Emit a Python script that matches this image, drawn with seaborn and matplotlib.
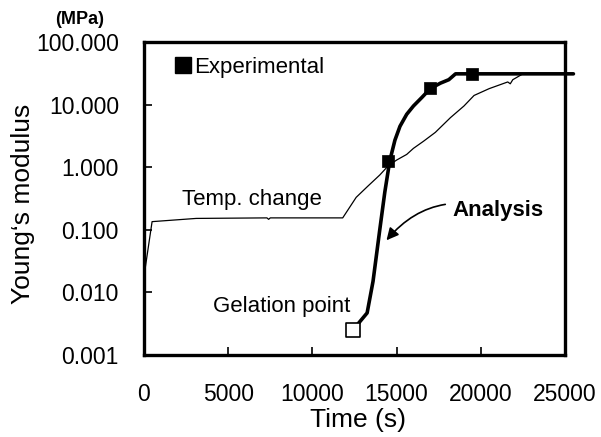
import numpy as np
import pandas as pd
import matplotlib
matplotlib.use("Agg")
import matplotlib.pyplot as plt
import seaborn as sns
from matplotlib.lines import Line2D

# ---- data ----
temp_time = [0, 480, 3100, 7300, 7400, 7500, 11800, 12600, 13300, 14000, 14500,
             15000, 15600, 16000, 16600, 17300, 18200, 19000, 19600, 20500,
             21600, 21750, 21900, 22500, 25000]
temp_modulus = [0.018, 0.135, 0.152, 0.155, 0.147, 0.155, 0.155, 0.33, 0.5, 0.75, 1.05,
                1.3, 1.6, 2.0, 2.6, 3.6, 6.2, 9.5, 14, 18,
                23, 21.5, 25, 31, 31]

analysis_time = [12400, 13250, 13600, 14000, 14300, 14590, 14900, 15200, 15600,
                 16000, 16500, 17000, 17600, 18100, 18500, 25500]
analysis_modulus = [0.0025, 0.0047, 0.015, 0.1, 0.4, 1.25, 2.7, 4.5, 7,
                    9.5, 13, 18, 22, 25, 31, 31]

exp_time = [14500, 17000, 19500]
exp_modulus = [1.25, 18.5, 31]

gel_time = [12400]
gel_modulus = [0.0025]

x_ticks = [0, 5000, 10000, 15000, 20000, 25000]
y_ticks = [0.001, 0.01, 0.1, 1, 10, 100]
y_ticklabels = ["0.001", "0.010", "0.100", "1.000", "10.000", "100.000"]

# ---- style ----
sns.set_style("ticks")
plt.rcParams["font.family"] = ["Liberation Sans", "DejaVu Sans"]
plt.rcParams["text.color"] = "black"
plt.rcParams["axes.labelcolor"] = "black"
plt.rcParams["xtick.color"] = "black"
plt.rcParams["ytick.color"] = "black"

W, H = 601, 437
fig = plt.figure(figsize=(W / 100, H / 100), dpi=100)
ax = fig.add_axes([144 / W, 1 - 355 / H, (565 - 144) / W, (355 - 42) / H])

temp_df = pd.DataFrame({"t": temp_time, "E": temp_modulus})
ana_df = pd.DataFrame({"t": analysis_time, "E": analysis_modulus})
exp_df = pd.DataFrame({"t": exp_time, "E": exp_modulus})
gel_df = pd.DataFrame({"t": gel_time, "E": gel_modulus})

sns.lineplot(data=temp_df, x="t", y="E", ax=ax, color="black", linewidth=0.9,
             sort=False, estimator=None)
sns.lineplot(data=ana_df, x="t", y="E", ax=ax, color="black", linewidth=2.6,
             sort=False, estimator=None, clip_on=False)
sns.scatterplot(data=exp_df, x="t", y="E", ax=ax, marker="s", s=70,
                color="black", edgecolor="black", linewidth=0.5, zorder=5,
                clip_on=False)
sns.scatterplot(data=gel_df, x="t", y="E", ax=ax, marker="s", s=95,
                facecolor="white", edgecolor="black", linewidth=1.2, zorder=5,
                clip_on=False)

ax.set_yscale("log")
ax.set_xlim(0, 25000)
ax.set_ylim(0.001, 100)
ax.set_xticks(x_ticks)
ax.set_xticklabels([str(v) for v in x_ticks])
ax.set_yticks(y_ticks)
ax.set_yticklabels(y_ticklabels)
ax.yaxis.set_minor_locator(matplotlib.ticker.NullLocator())
ax.tick_params(axis="both", direction="in", length=6, width=1.2, labelsize=16.5,
               colors="black", labelcolor="black")
ax.tick_params(axis="y", pad=18)
ax.tick_params(axis="x", pad=20)

for sp in ax.spines.values():
    sp.set_visible(True)
    sp.set_linewidth(2.4)
    sp.set_color("black")

ax.set_xlabel("Time (s)", fontsize=19, color="black")
ax.set_ylabel("Young\u2018s modulus", fontsize=19, color="black")
ax.xaxis.set_label_coords((358 - 144) / 421, (355 - 408) / 313)
ax.yaxis.set_label_coords((35 - 144) / 421, (355 - 203.5) / 313)

# annotations
ax.text(2250, 0.30, "Temp. change", fontsize=16, va="center", ha="left", color="black")
ax.text(4100, 0.0059, "Gelation point", fontsize=16, va="center", ha="left", color="black")
ax.annotate("Analysis", xy=(14400, 0.068), xytext=(18330, 0.2),
            fontsize=16, fontweight="bold", va="center", ha="left", color="black",
            arrowprops=dict(arrowstyle="-|>", color="black", lw=1.2,
                            connectionstyle="arc3,rad=0.35", shrinkA=3, shrinkB=0,
                            mutation_scale=18))
fig.text(80 / W, 1 - 20 / H, "(MPa)", fontsize=13, fontweight="bold",
         ha="center", va="center", color="black")

handle = Line2D([], [], marker="s", color="black", linestyle="none", markersize=12)
leg = ax.legend([handle], ["Experimental"], loc="upper left", bbox_to_anchor=(0.055, 0.98),
                frameon=False, fontsize=16, handlelength=0.6, handletextpad=0.2,
                borderaxespad=0, labelcolor="black")

fig.savefig("out.png", dpi=100, facecolor="white")
